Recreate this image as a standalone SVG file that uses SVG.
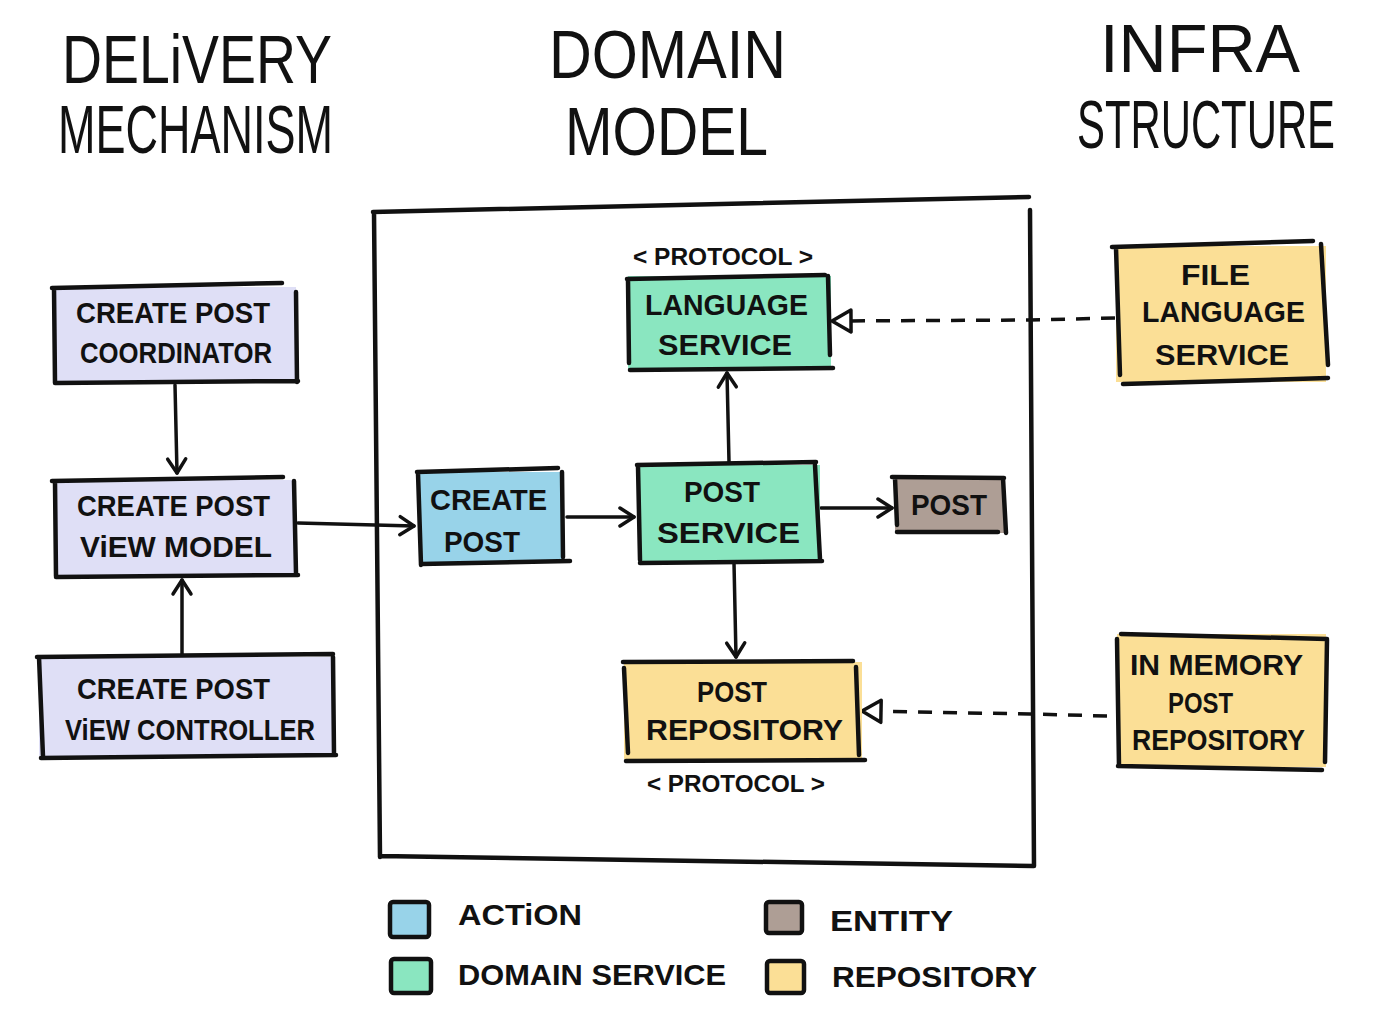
<svg xmlns="http://www.w3.org/2000/svg" width="1400" height="1012" viewBox="0 0 1400 1012">
<defs>
<style>
.title{font-family:"Liberation Sans",Arial,sans-serif;font-size:52px;fill:#111;}
.t{font-family:"Liberation Sans",Arial,sans-serif;font-weight:bold;font-size:30px;fill:#111;}
.s{font-family:"Liberation Sans",Arial,sans-serif;font-weight:bold;font-size:23px;fill:#111;}
.e{fill:none;stroke:#111;stroke-width:4.5;stroke-linecap:round;stroke-linejoin:round;}
.c{fill:none;stroke:#111;stroke-width:3.5;stroke-linecap:round;}
.d{fill:none;stroke:#111;stroke-width:3.5;stroke-dasharray:14 11;}
.lav{fill:#dfdff6;}
.blu{fill:#98d3e9;}
.grn{fill:#8ae6c0;}
.yel{fill:#fbdf96;}
.brn{fill:#ae9e95;}
</style>
<marker id="open" viewBox="0 0 24 24" refX="20" refY="12" markerWidth="24" markerHeight="24" markerUnits="userSpaceOnUse" orient="auto">
<path d="M6,3 L20,12 L6,21" fill="none" stroke="#111" stroke-width="3.5" stroke-linecap="round" stroke-linejoin="round"/>
</marker>
<marker id="tri" viewBox="0 0 28 28" refX="24" refY="14" markerWidth="28" markerHeight="28" markerUnits="userSpaceOnUse" orient="auto">
<path d="M24,14 L5,3 L5,25 Z" fill="#fff" stroke="#111" stroke-width="3.5" stroke-linejoin="round"/>
</marker>
</defs>
<rect width="1400" height="1012" fill="#fff"/>

<g id="titles">
<text class="title" transform="matrix(1,0,0,1.3,62,83)" textLength="270" lengthAdjust="spacingAndGlyphs">DELiVERY</text>
<text class="title" transform="matrix(1,0,0,1.3,58,153)" textLength="275" lengthAdjust="spacingAndGlyphs">MECHANISM</text>
<text class="title" transform="matrix(1,0,0,1.3,549,78)" textLength="237" lengthAdjust="spacingAndGlyphs">DOMAIN</text>
<text class="title" transform="matrix(1,0,0,1.3,565,155)" textLength="203" lengthAdjust="spacingAndGlyphs">MODEL</text>
<text class="title" transform="matrix(1,0,0,1.3,1100,72)" textLength="200" lengthAdjust="spacingAndGlyphs">INFRA</text>
<text class="title" transform="matrix(1,0,0,1.3,1077,148)" textLength="258" lengthAdjust="spacingAndGlyphs">STRUCTURE</text>
</g>

<g id="domain-boundary">
<path class="e" d="M373,212 L1029,197 M374,212 L380,857 M1030,210 L1034,866 M380,856 L1033,866"/>
</g>

<g id="connectors">
<path class="c" d="M175,385 L177,473" marker-end="url(#open)"/>
<path class="c" d="M182,656 L182,580" marker-end="url(#open)"/>
<path class="c" d="M298,523 L414,526" marker-end="url(#open)"/>
<path class="c" d="M567,517 L634,517" marker-end="url(#open)"/>
<path class="c" d="M729,462 L727,373" marker-end="url(#open)"/>
<path class="c" d="M821,508 L892,508" marker-end="url(#open)"/>
<path class="c" d="M734,563 L736,657" marker-end="url(#open)"/>
<path class="d" d="M1115,318 L1030,320 L832,321" marker-end="url(#tri)"/>
<path class="d" d="M1107,716 L1030,714 L862,711" marker-end="url(#tri)"/>
</g>

<g id="create-post-coordinator">
<rect class="lav" x="54" y="287" width="242" height="95"/>
<path class="e" d="M52,288 L282,283 M54,288 L55,383 M296,292 L297,382 M55,383 L298,381"/>
<text class="t" x="76" y="323" textLength="194" lengthAdjust="spacingAndGlyphs">CREATE POST</text>
<text class="t" x="80" y="363" textLength="192" lengthAdjust="spacingAndGlyphs">COORDINATOR</text>
</g>

<g id="create-post-view-model">
<rect class="lav" x="55" y="480" width="241" height="96"/>
<path class="e" d="M52,481 L283,477 M55,482 L56,576 M294,481 L296,573 M56,577 L298,575"/>
<text class="t" x="77" y="516" textLength="193" lengthAdjust="spacingAndGlyphs">CREATE POST</text>
<text class="t" x="80" y="557" textLength="192" lengthAdjust="spacingAndGlyphs">ViEW  MODEL</text>
</g>

<g id="create-post-view-controller">
<rect class="lav" x="39" y="657" width="294" height="99"/>
<path class="e" d="M37,657 L333,654 M39,657 L43,757 M333,657 L334,754 M41,758 L336,755"/>
<text class="t" x="77" y="699" textLength="193" lengthAdjust="spacingAndGlyphs">CREATE POST</text>
<text class="t" x="65" y="740" textLength="250" lengthAdjust="spacingAndGlyphs">ViEW CONTROLLER</text>
</g>

<g id="create-post-action">
<rect class="blu" x="419" y="472" width="145" height="90"/>
<path class="e" d="M417,472 L558,468 M418,473 L421,565 M562,472 L563,557 M421,564 L570,561"/>
<text class="t" x="430" y="510" textLength="117" lengthAdjust="spacingAndGlyphs">CREATE</text>
<text class="t" x="444" y="552" textLength="76" lengthAdjust="spacingAndGlyphs">POST</text>
</g>

<g id="language-service">
<text class="s" x="633" y="265" textLength="180" lengthAdjust="spacingAndGlyphs">&lt; PROTOCOL &gt;</text>
<rect class="grn" x="628" y="276" width="203" height="93"/>
<path class="e" d="M627,279 L825,275 M628,280 L629,363 M828,276 L830,355 M630,370 L833,368"/>
<text class="t" x="645" y="315" textLength="163" lengthAdjust="spacingAndGlyphs">LANGUAGE</text>
<text class="t" x="658" y="355" textLength="134" lengthAdjust="spacingAndGlyphs">SERVICE</text>
</g>

<g id="post-service">
<rect class="grn" x="638" y="465" width="182" height="97"/>
<path class="e" d="M637,465 L816,462 M638,466 L640,560 M815,465 L820,559 M640,563 L822,561"/>
<text class="t" x="684" y="502" textLength="76" lengthAdjust="spacingAndGlyphs">POST</text>
<text class="t" x="657" y="543" textLength="143" lengthAdjust="spacingAndGlyphs">SERVICE</text>
</g>

<g id="post-entity">
<rect class="brn" x="895" y="478" width="110" height="55"/>
<path class="e" d="M892,477 L1004,478 M895,478 L897,525 M1003,478 L1006,533 M897,532 L998,532"/>
<text class="t" x="911" y="515" textLength="76" lengthAdjust="spacingAndGlyphs">POST</text>
</g>

<g id="post-repository">
<rect class="yel" x="624" y="662" width="238" height="97"/>
<path class="e" d="M623,662 L853,661 M624,668 L628,753 M856,667 L859,755 M626,761 L865,760"/>
<text class="t" x="697" y="702" textLength="70" lengthAdjust="spacingAndGlyphs">POST</text>
<text class="t" x="646" y="740" textLength="197" lengthAdjust="spacingAndGlyphs">REPOSITORY</text>
<text class="s" x="647" y="792" textLength="178" lengthAdjust="spacingAndGlyphs">&lt; PROTOCOL &gt;</text>
</g>

<g id="file-language-service">
<rect class="yel" x="1116" y="246" width="210" height="136"/>
<path class="e" d="M1112,247 L1313,241 M1116,248 L1120,375 M1321,244 L1328,365 M1123,384 L1328,378"/>
<text class="t" x="1181" y="285" textLength="69" lengthAdjust="spacingAndGlyphs">FILE</text>
<text class="t" x="1142" y="322" textLength="163" lengthAdjust="spacingAndGlyphs">LANGUAGE</text>
<text class="t" x="1155" y="365" textLength="134" lengthAdjust="spacingAndGlyphs">SERVICE</text>
</g>

<g id="in-memory-post-repository">
<rect class="yel" x="1117" y="634" width="209" height="133"/>
<path class="e" d="M1121,634 L1327,639 M1117,639 L1119,766 M1327,640 L1325,762 M1118,766 L1322,770"/>
<text class="t" x="1130" y="675" textLength="173" lengthAdjust="spacingAndGlyphs">IN MEMORY</text>
<text class="t" x="1168" y="713" textLength="65" lengthAdjust="spacingAndGlyphs">POST</text>
<text class="t" x="1132" y="750" textLength="173" lengthAdjust="spacingAndGlyphs">REPOSITORY</text>
</g>

<g id="legend">
<rect class="blu e" x="390" y="902" width="39" height="35" rx="3"/>
<rect class="grn e" x="391" y="959" width="40" height="34" rx="3"/>
<rect class="brn e" x="766" y="902" width="36" height="31" rx="3"/>
<rect class="yel e" x="767" y="961" width="37" height="32" rx="3"/>
<text class="t" x="458" y="925" textLength="124" lengthAdjust="spacingAndGlyphs">ACTiON</text>
<text class="t" x="458" y="985" textLength="268" lengthAdjust="spacingAndGlyphs">DOMAIN SERVICE</text>
<text class="t" x="830" y="931" textLength="123" lengthAdjust="spacingAndGlyphs">ENTITY</text>
<text class="t" x="832" y="987" textLength="205" lengthAdjust="spacingAndGlyphs">REPOSITORY</text>
</g>
</svg>
